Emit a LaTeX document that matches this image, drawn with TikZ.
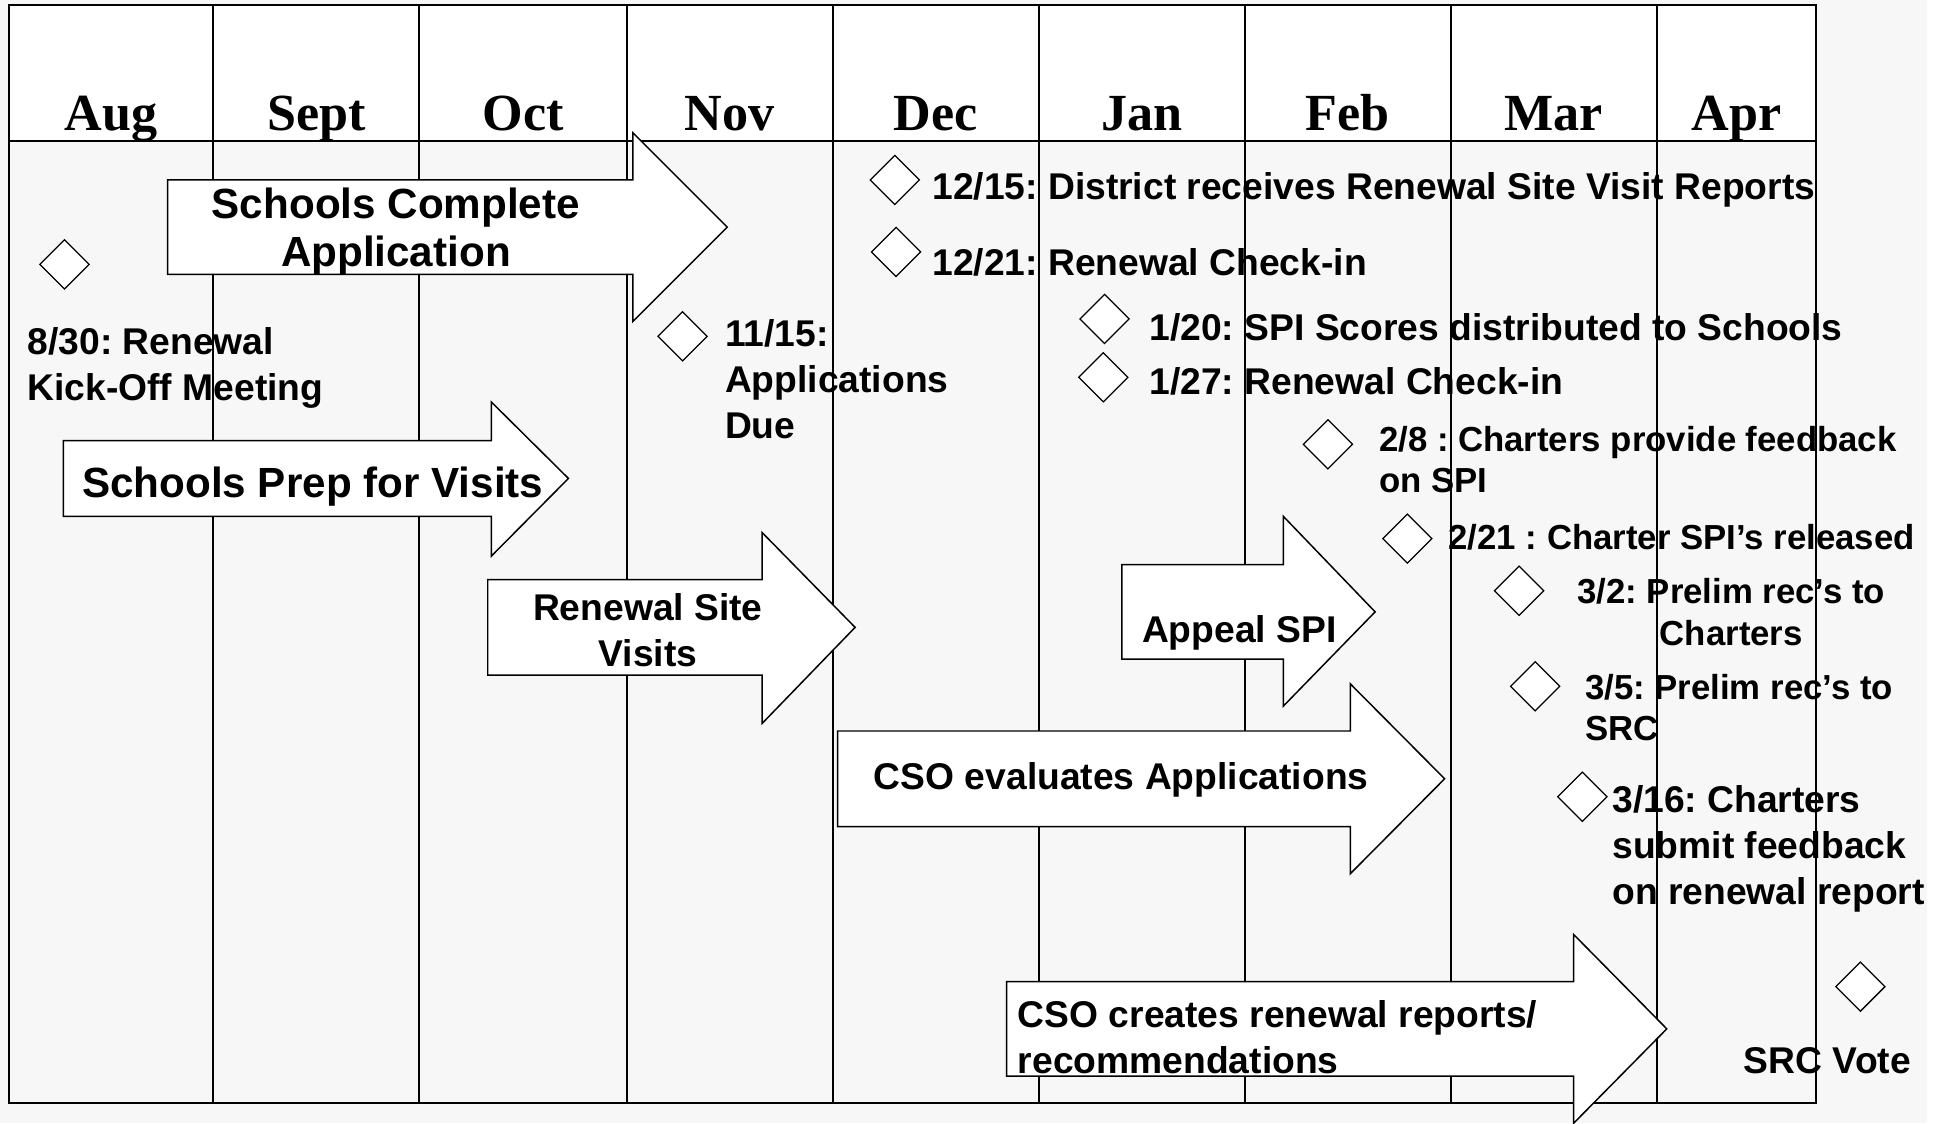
\documentclass[tikz,border=0pt]{standalone}
\usepackage{fontspec}
\setmainfont{Liberation Sans}
\newfontfamily\monthfont{Liberation Serif}
\usetikzlibrary{shapes.geometric}
\frenchspacing

\definecolor{bodygray}{HTML}{F7F7F7}

\tikzset{
  month/.style={font=\monthfont\bfseries\fontsize{42}{42}\selectfont, anchor=base, inner sep=0pt},
  event/.style={font=\bfseries\fontsize{30}{37}\selectfont, anchor=base west, inner sep=0pt, align=left},
  tight/.style={font=\bfseries\fontsize{28}{33.5}\selectfont},
  big/.style={font=\bfseries\fontsize{34}{39}\selectfont},
  milestone/.style={draw, fill=white, diamond, minimum width=40pt, minimum height=40pt, inner sep=0pt, line width=1pt},
  gridline/.style={line width=1.6pt},
  blockarrow/.style={draw, fill=white, line width=1.2pt, line join=miter}
}

% block arrow: left, shaft top, shaft bottom, neck, head top, head bottom, tip
\newcommand{\blockarrow}[7]{
  \draw[blockarrow] (#1,#2) -- (#4,#2) -- (#4,#5) -- (#7,{(#2+#3)/2}) -- (#4,#6) -- (#4,#3) -- (#1,#3) -- cycle;
}

\begin{document}
\begin{tikzpicture}[x=1pt, y=-1pt]
\useasboundingbox (0,0) rectangle (1568,905);
\fill[white] (0,0) rectangle (1568,905);
\fill[bodygray] (0,0) rectangle (1553,905);
\fill[white] (7,4) rectangle (1463,114);

% months
\foreach \m/\x in {Aug/89.5, Sept/255, Oct/421.5, Nov/588, Dec/754, Jan/920, Feb/1086, Mar/1252, Apr/1399}
  \node[month] (m-\m) at (\x,105) {\m};

% milestones (multi-line texts sit on their last baseline)
\node[milestone] (d830) at (52,213) {};
\node[event] (t830) at (22,323) {8/30: Renewal\\Kick-Off Meeting};
\node[milestone] (d1115) at (550,271) {};
\node[event] (t1115) at (584,353) {11/15:\\Applications\\Due};
\node[milestone] (d1215) at (721,145) {};
\node[event] (t1215) at (751,161) {12/15: District receives Renewal Site Visit Reports};
\node[milestone] (d1221) at (722,203) {};
\node[event] (t1221) at (751,222) {12/21: Renewal Check-in};
\node[milestone] (d120) at (890,257) {};
\node[event] (t120) at (926,274) {1/20: SPI Scores distributed to Schools};
\node[milestone] (d127) at (889,304) {};
\node[event] (t127) at (926,318) {1/27: Renewal Check-in};
\node[milestone] (d28) at (1070,358) {};
\node[event, tight] (t28) at (1111,397) {2/8 : Charters provide feedback\\on SPI};
\node[milestone] (d221) at (1134,434) {};
\node[event, tight] (t221) at (1167,443) {2/21 : Charter SPI’s released};
\node[milestone] (d32) at (1224,476) {};
\node[event, tight, anchor=base, align=center] (t32) at (1395,520) {3/2: Prelim rec’s to\\Charters};
\node[milestone] (d35) at (1237,553) {};
\node[event, tight] (t35) at (1277,597) {3/5: Prelim rec’s to\\SRC};
\node[milestone] (d316) at (1275,642) {};
\node[event] (t316) at (1299,729) {3/16: Charters\\submit feedback\\on renewal report};
\node[milestone] (dvote) at (1499,795) {};
\node[event] (tvote) at (1405,865) {SRC Vote};

% grid
\foreach \x in {7,172,338,505,671,837,1003,1169,1335,1463}
  \draw[gridline] (\x,4) -- (\x,889);
\draw[gridline] (7,4) rectangle (1463,889);
\draw[gridline] (7,114) -- (1463,114);

% activities
\blockarrow{135}{145}{221}{510}{107}{259}{586}
\node[event, big, anchor=base, align=center] (a-complete) at (319,215) {Schools Complete\\Application};
\blockarrow{51}{355}{416}{396}{324}{448}{458}
\node[event, big] (a-prep) at (66,401) {Schools Prep for Visits};
\blockarrow{393}{467}{544}{614}{429}{583}{689}
\node[event, anchor=base, align=center] (a-visits) at (522,537) {Renewal Site\\Visits};
\blockarrow{904}{455}{531}{1034}{416}{569}{1108}
\node[event] (a-appeal) at (920,518) {Appeal SPI};
\blockarrow{675}{589}{666}{1088}{551}{704}{1164}
\node[event] (a-evaluate) at (704,636) {CSO evaluates Applications};
\blockarrow{811}{791}{867}{1268}{753}{905}{1343}
\node[event] (a-reports) at (820,865) {CSO creates renewal reports/\\recommendations};
\end{tikzpicture}
\end{document}
